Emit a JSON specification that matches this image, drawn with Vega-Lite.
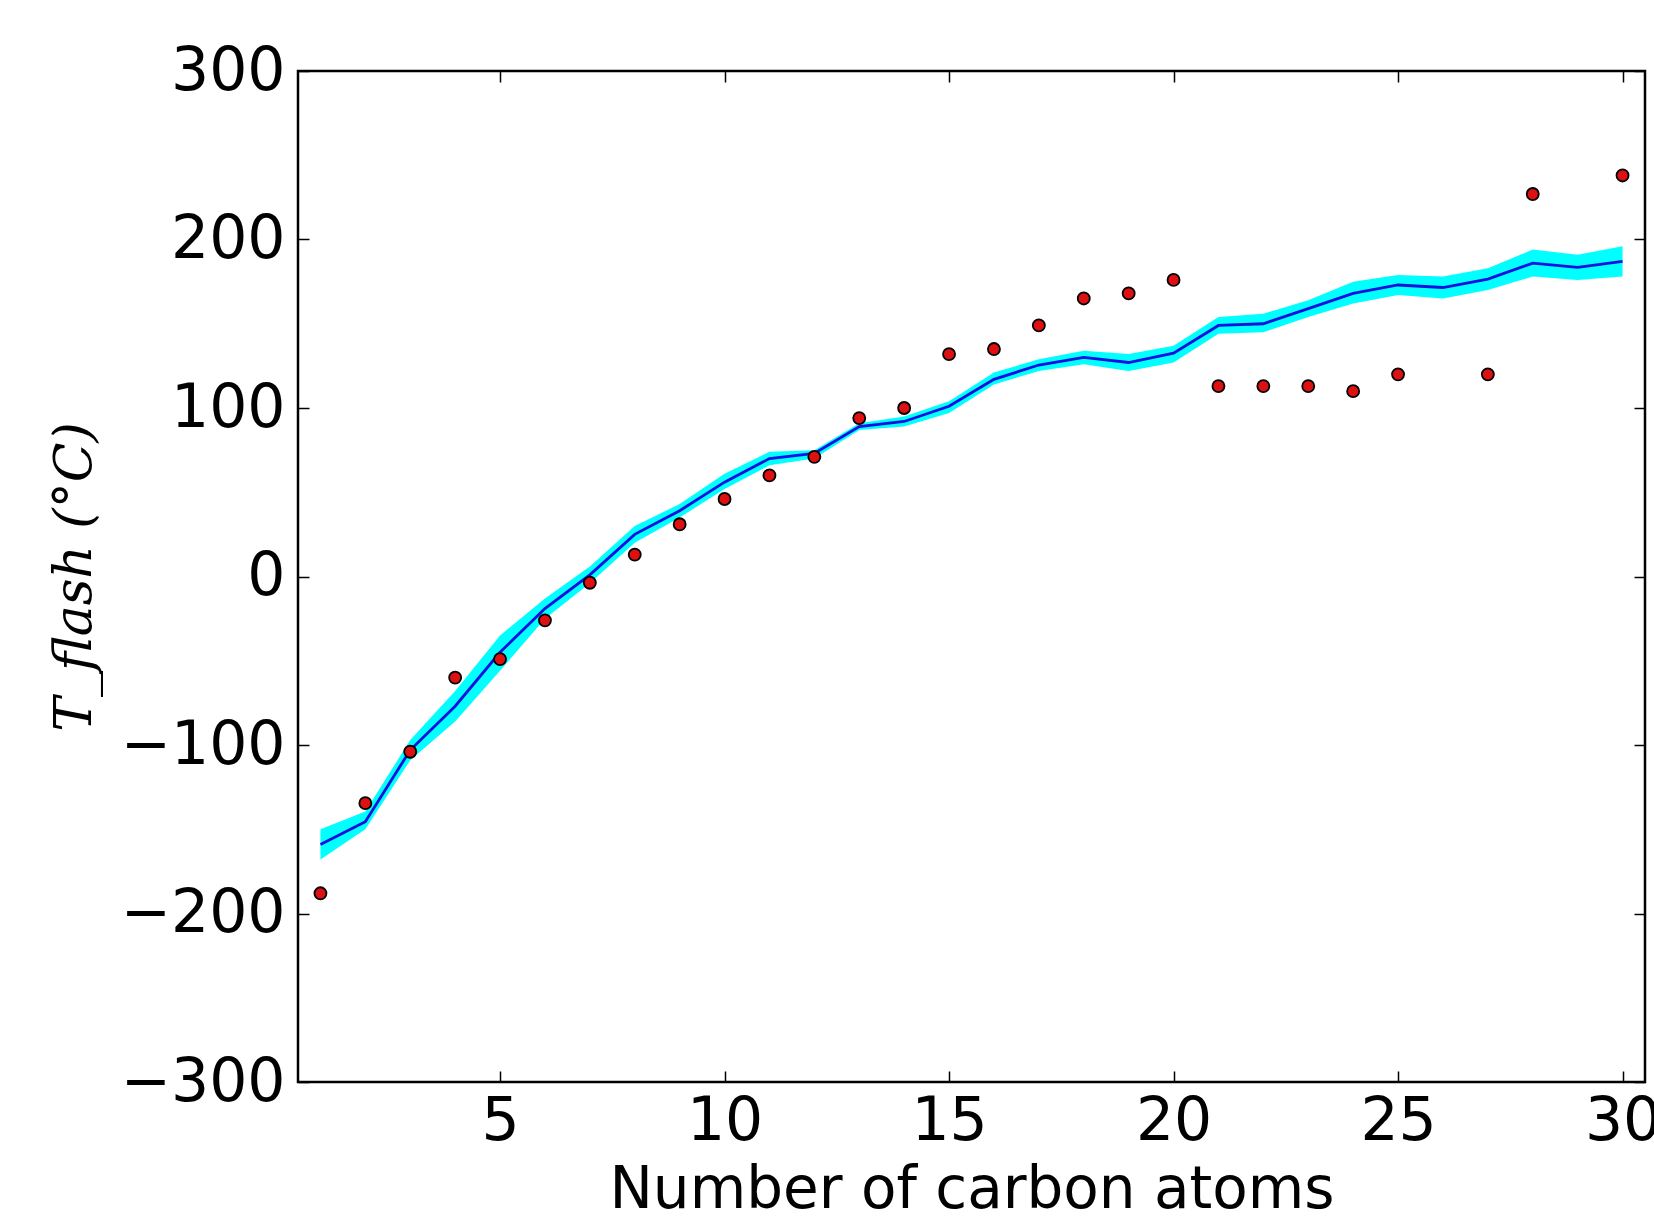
{
  "$schema": "https://vega.github.io/schema/vega-lite/v6.json",
  "autosize": {"type": "none"},
  "padding": {"left": 298, "top": 71, "right": 9, "bottom": 139},
  "width": 1347,
  "height": 1011,
  "background": "white",
  "config": {
    "view": {"stroke": "#000000", "strokeWidth": 2.5},
    "axis": {"grid": false, "domain": false, "labelFont": "DejaVu Sans", "labelFontSize": 60, "labelColor": "#000000", "tickColor": "#000000", "tickWidth": 1.5, "titleColor": "#000000"}
  },
  "data": {"values": [
    {"n": 1, "lo": -168, "mid": -159, "hi": -150, "obs": -188},
    {"n": 2, "lo": -150, "mid": -145.5, "hi": -139.5, "obs": -134.5},
    {"n": 3, "lo": -109, "mid": -103, "hi": -97, "obs": -104},
    {"n": 4, "lo": -86, "mid": -77, "hi": -68, "obs": -60},
    {"n": 5, "lo": -56, "mid": -45, "hi": -35, "obs": -49},
    {"n": 6, "lo": -25, "mid": -19, "hi": -13, "obs": -26},
    {"n": 7, "lo": -4, "mid": 1, "hi": 6, "obs": -3.7},
    {"n": 8, "lo": 20, "mid": 25, "hi": 30, "obs": 13},
    {"n": 9, "lo": 35, "mid": 39, "hi": 43, "obs": 31},
    {"n": 10, "lo": 52, "mid": 56, "hi": 61, "obs": 46},
    {"n": 11, "lo": 66, "mid": 70, "hi": 74, "obs": 60},
    {"n": 12, "lo": 70, "mid": 73, "hi": 75, "obs": 71},
    {"n": 13, "lo": 87, "mid": 89, "hi": 91, "obs": 94},
    {"n": 14, "lo": 89, "mid": 92, "hi": 95, "obs": 100},
    {"n": 15, "lo": 97, "mid": 101, "hi": 104, "obs": 132},
    {"n": 16, "lo": 114, "mid": 117, "hi": 121, "obs": 135},
    {"n": 17, "lo": 122, "mid": 125.5, "hi": 129, "obs": 149},
    {"n": 18, "lo": 126, "mid": 130, "hi": 134, "obs": 165},
    {"n": 19, "lo": 122, "mid": 127, "hi": 132, "obs": 168},
    {"n": 20, "lo": 127, "mid": 132.5, "hi": 137, "obs": 176},
    {"n": 21, "lo": 144, "mid": 149, "hi": 154, "obs": 113},
    {"n": 22, "lo": 145, "mid": 150, "hi": 156, "obs": 113},
    {"n": 23, "lo": 154, "mid": 159, "hi": 164, "obs": 113},
    {"n": 24, "lo": 162, "mid": 168, "hi": 175, "obs": 110},
    {"n": 25, "lo": 167, "mid": 173, "hi": 179, "obs": 120},
    {"n": 26, "lo": 165, "mid": 171.5, "hi": 178, "obs": null},
    {"n": 27, "lo": 170, "mid": 176.5, "hi": 183, "obs": 120},
    {"n": 28, "lo": 178, "mid": 186, "hi": 194, "obs": 227},
    {"n": 29, "lo": 176, "mid": 183.5, "hi": 191, "obs": null},
    {"n": 30, "lo": 178, "mid": 187, "hi": 196, "obs": 238}
  ]},
  "resolve": {"axis": {"x": "independent", "y": "independent"}},
  "layer": [
    {
      "mark": {"type": "area", "color": "#00ffff", "opacity": 1},
      "encoding": {
        "x": {"field": "n", "type": "quantitative",
          "scale": {"domain": [0.5, 30.5], "nice": false, "zero": false},
          "axis": {"orient": "bottom", "values": [5, 10, 15, 20, 25, 30], "tickSize": -11, "labelPadding": 68, "labelBaseline": "alphabetic",
            "title": "Number of carbon atoms", "titleFont": "DejaVu Sans", "titleFontSize": 58, "titleFontWeight": "normal",
            "titleX": 673.5, "titleY": 125, "titleBaseline": "alphabetic", "titleAlign": "center"}},
        "y": {"field": "lo", "type": "quantitative",
          "scale": {"domain": [-300, 300], "nice": false, "zero": false},
          "axis": {"orient": "left", "values": [-300, -200, -100, 0, 100, 200, 300], "tickSize": -11, "labelPadding": 24,
            "title": "T_flash (°C)", "titleFont": "DejaVu Serif", "titleFontStyle": "italic", "titleFontSize": 52, "titleFontWeight": "normal",
            "titleX": -224, "titleY": 505.5, "titleAngle": -90, "titleAlign": "center", "titleBaseline": "middle"}},
        "y2": {"field": "hi"}
      }
    },
    {
      "mark": {"type": "line", "color": "#1010e0", "strokeWidth": 2.8},
      "encoding": {
        "x": {"field": "n", "type": "quantitative",
          "axis": {"orient": "top", "values": [5, 10, 15, 20, 25, 30], "tickSize": -11, "labels": false, "title": null}},
        "y": {"field": "mid", "type": "quantitative",
          "axis": {"orient": "right", "values": [-300, -200, -100, 0, 100, 200, 300], "tickSize": -11, "labels": false, "title": null}}
      }
    },
    {
      "transform": [{"filter": "isValid(datum.obs)"}],
      "mark": {"type": "circle", "color": "#dd1111", "opacity": 1, "stroke": "#000000", "strokeWidth": 1.8, "size": 145},
      "encoding": {
        "x": {"field": "n", "type": "quantitative", "axis": null},
        "y": {"field": "obs", "type": "quantitative", "axis": null}
      }
    }
  ]
}
